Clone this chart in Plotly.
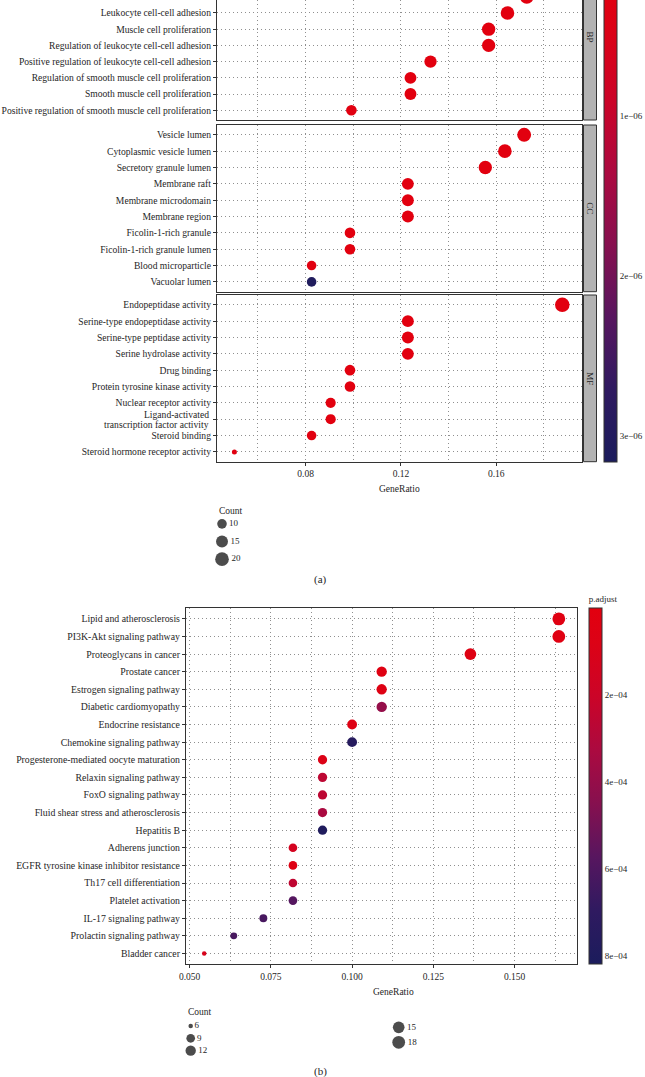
import numpy as np
import plotly.graph_objects as go

FONT = "Liberation Serif"
W, H = 645, 1077

# ---------------- Panel (a): GO enrichment ----------------
bp_terms = ["Regulation of cell-cell adhesion",
            "Leukocyte cell-cell adhesion",
            "Muscle cell proliferation",
            "Regulation of leukocyte cell-cell adhesion",
            "Positive regulation of leukocyte cell-cell adhesion",
            "Regulation of smooth muscle cell proliferation",
            "Smooth muscle cell proliferation",
            "Positive regulation of smooth muscle cell proliferation"]
bp_ratio = [0.1728, 0.1647, 0.1568, 0.1568, 0.1324, 0.1240, 0.1240, 0.0992]
bp_count = [21, 20, 19, 19, 16, 15, 15, 12]
bp_padj = [1e-8, 2e-8, 3e-8, 3e-8, 6e-8, 1e-7, 1e-7, 2e-7]

cc_terms = ["Vesicle lumen", "Cytoplasmic vesicle lumen", "Secretory granule lumen",
            "Membrane raft", "Membrane microdomain", "Membrane region",
            "Ficolin-1-rich granule", "Ficolin-1-rich granule lumen",
            "Blood microparticle", "Vacuolar lumen"]
cc_ratio = [0.1717, 0.1636, 0.1554, 0.1229, 0.1229, 0.1229, 0.0986, 0.0986, 0.0825, 0.0825]
cc_count = [21, 20, 19, 15, 15, 15, 12, 12, 10, 10]
cc_padj = [2e-8, 3e-8, 5e-8, 1e-7, 1e-7, 1e-7, 1.5e-7, 1.5e-7, 2e-7, 3.05e-6]

mf_terms = ["Endopeptidase activity", "Serine-type endopeptidase activity",
            "Serine-type peptidase activity", "Serine hydrolase activity",
            "Drug binding", "Protein tyrosine kinase activity",
            "Nuclear receptor activity",
            "Ligand-activated<br>transcription factor activity",
            "Steroid binding", "Steroid hormone receptor activity"]
mf_ratio = [0.1877, 0.1229, 0.1229, 0.1229, 0.0986, 0.0986, 0.0905, 0.0905, 0.0825, 0.0501]
mf_count = [23, 15, 15, 15, 12, 12, 11, 11, 10, 6]
mf_padj = [1e-8, 5e-8, 5e-8, 6e-8, 1e-7, 1e-7, 1.5e-7, 1.5e-7, 2e-7, 2e-7]

a_xticks = [0.08, 0.12, 0.16]
a_cbar_ticks = [1e-6, 2e-6, 3e-6]
a_cbar_text = ["1e\u221206", "2e\u221206", "3e\u221206"]
a_legend_counts = [10, 15, 20]

# ---------------- Panel (b): KEGG enrichment ----------------
kegg_terms = ["Lipid and atherosclerosis", "PI3K-Akt signaling pathway",
              "Proteoglycans in cancer", "Prostate cancer",
              "Estrogen signaling pathway", "Diabetic cardiomyopathy",
              "Endocrine resistance", "Chemokine signaling pathway",
              "Progesterone-mediated oocyte maturation", "Relaxin signaling pathway",
              "FoxO signaling pathway", "Fluid shear stress and atherosclerosis",
              "Hepatitis B", "Adherens junction",
              "EGFR tyrosine kinase inhibitor resistance", "Th17 cell differentiation",
              "Platelet activation", "IL-17 signaling pathway",
              "Prolactin signaling pathway", "Bladder cancer"]
kegg_count = [18, 18, 15, 12, 12, 12, 11, 11, 10, 10, 10, 10, 10, 9, 9, 9, 9, 8, 7, 6]
kegg_ratio = [0.1636, 0.1636, 0.1364, 0.1091, 0.1091, 0.1091, 0.1000, 0.1000,
              0.0909, 0.0909, 0.0909, 0.0909, 0.0909, 0.0818, 0.0818, 0.0818,
              0.0818, 0.0727, 0.0636, 0.0545]
kegg_padj = [3e-5, 3e-5, 5e-5, 4e-5, 5e-5, 4.0e-4, 6e-5, 7.5e-4,
             8e-5, 2.6e-4, 2.6e-4, 3.3e-4, 7.9e-4, 1.4e-4, 5e-5, 2.5e-4,
             5.8e-4, 6.2e-4, 6.2e-4, 1.2e-4]

b_xticks = [0.050, 0.075, 0.100, 0.125, 0.150]
b_cbar_ticks = [2e-4, 4e-4, 6e-4, 8e-4]
b_cbar_text = ["2e\u221204", "4e\u221204", "6e\u221204", "8e\u221204"]
b_legend_counts_1 = [6, 9, 12]
b_legend_counts_2 = [15, 18]

# ---------------- styling helpers ----------------
colorscale = [[0.0, "#1b1c5c"], [0.15, "#2f1a60"], [0.3, "#57165f"],
              [0.45, "#86104f"], [0.6, "#ab0a40"], [0.75, "#cb0428"],
              [0.9, "#dc0216"], [1.0, "#e2000f"]]


def size_scale(counts, cmin, cmax, dmin, dmax):
    c = np.asarray(counts, dtype=float)
    return dmin + (dmax - dmin) * np.sqrt((c - cmin) / (cmax - cmin))


def a_size(c):
    return size_scale(c, 6, 23, 5.0, 14.5)


def b_size(c):
    return size_scale(c, 6, 18, 4.5, 12.8)


def px_x(p):
    return p / W


def px_y(p):
    return 1 - p / H


GRID = "#8f8f8f"
DOT = "1px,3px"
LINE = "#333333"
TXT = "#262626"
YFONT_A = 9.6

fig = go.Figure()

# facet traces for (a)
facets = [("x", "y", bp_terms, bp_ratio, bp_count, bp_padj),
          ("x2", "y2", cc_terms, cc_ratio, cc_count, cc_padj),
          ("x3", "y3", mf_terms, mf_ratio, mf_count, mf_padj)]
for xa, ya, terms, ratio, count, padj in facets:
    fig.add_trace(go.Scatter(
        x=ratio, y=terms, mode="markers", xaxis=xa, yaxis=ya,
        marker=dict(size=a_size(count), color=[-v for v in padj],
                    coloraxis="coloraxis", line=dict(width=0), opacity=1),
        showlegend=False, hoverinfo="x+y"))

# (b) trace
fig.add_trace(go.Scatter(
    x=kegg_ratio, y=kegg_terms, mode="markers", xaxis="x4", yaxis="y4",
    marker=dict(size=b_size(kegg_count), color=[-v for v in kegg_padj],
                coloraxis="coloraxis2", line=dict(width=0), opacity=1),
    showlegend=False, hoverinfo="x+y"))

# size legends drawn on hidden helper axes
legends = [("x5", "y5", a_legend_counts, a_size),
           ("x6", "y6", b_legend_counts_1, b_size),
           ("x7", "y7", b_legend_counts_2, b_size)]
for xa, ya, cnts, fn in legends:
    fig.add_trace(go.Scatter(
        x=[0] * len(cnts), y=[str(c) for c in cnts], xaxis=xa, yaxis=ya,
        mode="markers+text", text=[str(c) for c in cnts],
        textposition="middle right",
        textfont=dict(family=FONT, size=9, color=TXT),
        marker=dict(size=fn(cnts), color="black", line=dict(width=0)),
        showlegend=False, hoverinfo="skip", cliponaxis=False))

common_x = dict(showgrid=True, gridcolor=GRID, griddash=DOT, gridwidth=1,
                zeroline=False, showline=True, linecolor=LINE, linewidth=1.2,
                automargin=False,
                tickfont=dict(family=FONT, size=9.5, color=TXT))
common_y = dict(type="category", showgrid=True, gridcolor=GRID, griddash=DOT,
                gridwidth=1, zeroline=False, showline=True, linecolor=LINE,
                linewidth=1.2, mirror=True, ticks="outside", ticklen=3,
                tickcolor=LINE, automargin=False,
                tickfont=dict(family=FONT, size=YFONT_A, color=TXT))

a_xdom = [px_x(217), px_x(582.3)]
a_xrange = [0.0428, 0.1961]
a_minor = dict(dtick=0.02, tick0=0, showgrid=True, gridcolor=GRID, griddash=DOT, gridwidth=1)

# multi-line MF labels are drawn as separate tighter lines
mf_ticktext = ["" if "<br>" in t else t for t in mf_terms]

layout = dict(
    template="none",
    width=W, height=H, margin=dict(l=0, r=0, t=0, b=0, autoexpand=False),
    paper_bgcolor="white", plot_bgcolor="white",
    font=dict(family=FONT, color=TXT),
    xaxis=dict(common_x, domain=a_xdom, range=a_xrange, anchor="y", mirror=False,
               showticklabels=False, ticks="", tickvals=a_xticks, minor=a_minor),
    xaxis2=dict(common_x, domain=a_xdom, range=a_xrange, anchor="y2", mirror=True,
                showticklabels=False, ticks="", tickvals=a_xticks, minor=a_minor),
    xaxis3=dict(common_x, domain=a_xdom, range=a_xrange, anchor="y3", mirror=True,
                tickvals=a_xticks, ticktext=[f"{v:.2f}" for v in a_xticks],
                ticks="outside", ticklen=3, tickcolor=LINE, minor=a_minor),
    yaxis=dict(common_y, domain=[px_y(120), 1], anchor="x",
               categoryarray=bp_terms[::-1], categoryorder="array",
               range=[-0.6, len(bp_terms) - 1.2]),
    yaxis2=dict(common_y, domain=[px_y(291.7), px_y(125)], anchor="x2",
                categoryarray=cc_terms[::-1], categoryorder="array",
                range=[-0.6, len(cc_terms) - 0.4]),
    yaxis3=dict(common_y, domain=[px_y(461.7), px_y(295)], anchor="x3",
                categoryarray=mf_terms[::-1], categoryorder="array",
                tickvals=mf_terms, ticktext=mf_ticktext,
                range=[-0.6, len(mf_terms) - 0.4]),
    xaxis4=dict(common_x, domain=[px_x(186), px_x(576.7)], range=[0.0489, 0.1691],
                anchor="y4", mirror=True, tickvals=b_xticks,
                ticktext=[f"{v:.3f}" for v in b_xticks],
                ticks="outside", ticklen=3, tickcolor=LINE,
                tickfont=dict(family=FONT, size=9.5, color=TXT),
                minor=dict(dtick=0.0125, tick0=0, showgrid=True, gridcolor=GRID,
                           griddash=DOT, gridwidth=1)),
    yaxis4=dict(common_y, domain=[px_y(964), px_y(608.3)], anchor="x4",
                categoryarray=kegg_terms[::-1], categoryorder="array",
                range=[-0.6, len(kegg_terms) - 0.4],
                tickfont=dict(family=FONT, size=9.8, color=TXT)),
    # legend helper axes
    xaxis5=dict(visible=False, domain=[px_x(212), px_x(232)], range=[-1, 1], anchor="y5"),
    yaxis5=dict(visible=False, domain=[px_y(568), px_y(515)], anchor="x5", type="category",
                categoryarray=[str(c) for c in a_legend_counts][::-1],
                categoryorder="array", range=[-0.5, len(a_legend_counts) - 0.5]),
    xaxis6=dict(visible=False, domain=[px_x(180.7), px_x(200.7)], range=[-1, 1], anchor="y6"),
    yaxis6=dict(visible=False, domain=[px_y(1056.8), px_y(1019.8)], anchor="x6", type="category",
                categoryarray=[str(c) for c in b_legend_counts_1][::-1],
                categoryorder="array", range=[-0.5, len(b_legend_counts_1) - 0.5]),
    xaxis7=dict(visible=False, domain=[px_x(388.7), px_x(408.7)], range=[-1, 1], anchor="y7"),
    yaxis7=dict(visible=False, domain=[px_y(1049.8), px_y(1019.8)], anchor="x7", type="category",
                categoryarray=[str(c) for c in b_legend_counts_2][::-1],
                categoryorder="array", range=[-0.5, len(b_legend_counts_2) - 0.5]),
    coloraxis=dict(
        colorscale=colorscale, cmin=-3.162e-6, cmax=-0.148e-6,
        colorbar=dict(thickness=13, thicknessmode="pixels", lenmode="fraction",
                      len=(461.7 + 20) / H, x=px_x(604), xanchor="left", xpad=0,
                      y=px_y(461.7), yanchor="bottom", ypad=0,
                      outlinecolor=LINE, outlinewidth=1,
                      tickvals=[-v for v in a_cbar_ticks], ticktext=a_cbar_text,
                      ticks="", ticklabelposition="outside",
                      tickfont=dict(family=FONT, size=9, color=TXT))),
    coloraxis2=dict(
        colorscale=colorscale, cmin=-8.18e-4, cmax=0,
        colorbar=dict(thickness=13, thicknessmode="pixels", lenmode="fraction",
                      len=(964 - 593) / H, x=px_x(589.3), xanchor="left", xpad=0,
                      y=px_y(964), yanchor="bottom", ypad=0,
                      outlinecolor=LINE, outlinewidth=1,
                      title=dict(text="p.adjust", side="top",
                                 font=dict(family=FONT, size=9, color=TXT)),
                      tickvals=[-v for v in b_cbar_ticks], ticktext=b_cbar_text,
                      ticks="",
                      tickfont=dict(family=FONT, size=9, color=TXT))),
)
fig.update_layout(**layout)

# facet strips
strip_x0, strip_x1 = px_x(583.5), px_x(596.5)
strips = [("BP", px_y(120), 1.06, px_y(36.5)),
          ("CC", px_y(291.7), px_y(125), px_y(208.3)),
          ("MF", px_y(461.7), px_y(295), px_y(378.3))]
for lab, y0, y1, yc in strips:
    fig.add_shape(type="rect", xref="paper", yref="paper", x0=strip_x0, x1=strip_x1,
                  y0=y0, y1=y1, fillcolor="#b3b3b3", line=dict(color=LINE, width=1),
                  layer="above")
    fig.add_annotation(text=lab, xref="paper", yref="paper", x=(strip_x0 + strip_x1) / 2,
                       y=yc, xanchor="center", yanchor="middle", showarrow=False,
                       textangle=90, font=dict(family=FONT, size=9, color="#1a1a1a"))

# partially visible top BP label (cropped at figure top)
fig.add_annotation(text=bp_terms[0], xref="paper", yref="y", x=px_x(210.5),
                   y=len(bp_terms) - 1, xanchor="right", showarrow=False,
                   font=dict(family=FONT, size=YFONT_A, color=TXT))

# two-line MF label with tight line spacing
for i, t in enumerate(mf_terms):
    if "<br>" in t:
        idx = len(mf_terms) - 1 - i
        lines = t.split("<br>")
        n = len(lines)
        for k, ln in enumerate(lines):
            fig.add_annotation(text=ln, xref="paper", yref="y3", x=px_x(210.5), y=idx,
                               yshift=(n - 1) / 2 * 10 - k * 10, xanchor="right",
                               showarrow=False,
                               font=dict(family=FONT, size=YFONT_A, color=TXT))

# axis titles, legend titles and panel labels
texts = [("GeneRatio", 399.3, 489.3, "center", 9.5),
         ("GeneRatio", 393.3, 992.3, "center", 9.5),
         ("Count", 216.7, 510.7, "left", 9.5),
         ("Count", 186.0, 1012.0, "left", 9.5),
         ("(a)", 320, 579, "center", 11),
         ("(b)", 320, 1071.7, "center", 11)]
for t, x, y, anc, fs in texts:
    fig.add_annotation(text=t, xref="paper", yref="paper", x=px_x(x), y=px_y(y),
                       xanchor=anc, yanchor="middle", showarrow=False,
                       font=dict(family=FONT, size=fs, color=TXT))

fig.write_html("out.html", config={"displayModeBar": False},
               post_script="document.body.style.margin='0';"
                           "document.body.style.overflow='hidden';")
